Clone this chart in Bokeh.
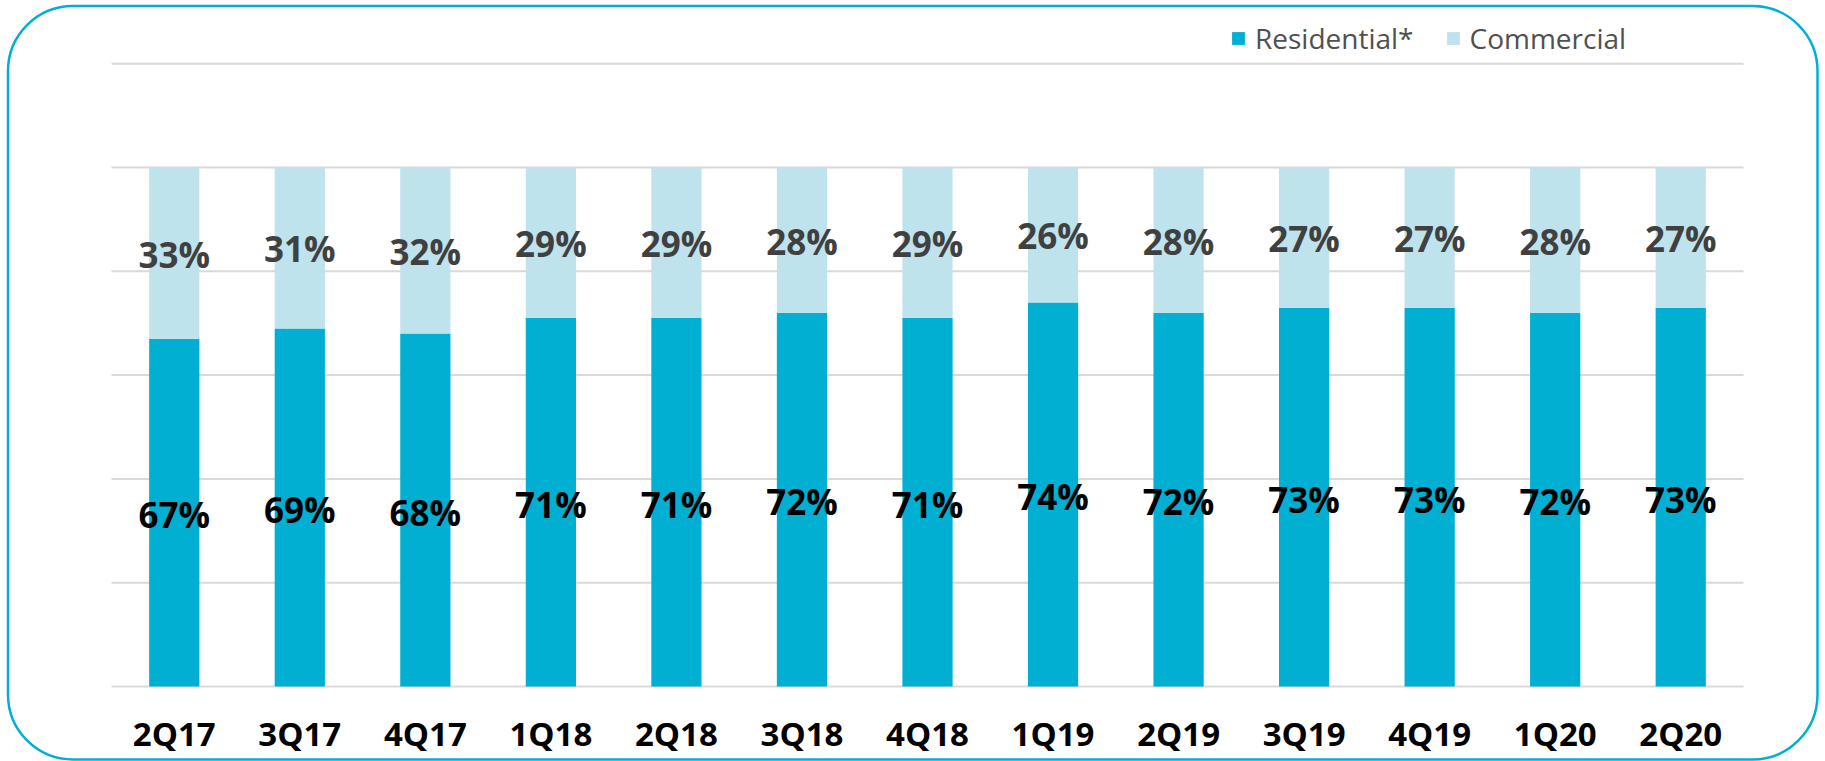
from bokeh.plotting import figure
from bokeh.models import ColumnDataSource, Range1d, Legend, BoxAnnotation
from bokeh.core.properties import value
from bokeh.embed import file_html
from bokeh.resources import INLINE

quarters = ["2Q17", "3Q17", "4Q17", "1Q18", "2Q18", "3Q18", "4Q18",
            "1Q19", "2Q19", "3Q19", "4Q19", "1Q20", "2Q20"]
residential = [0.67, 0.69, 0.68, 0.71, 0.71, 0.72, 0.71, 0.74, 0.72, 0.73, 0.73, 0.72, 0.73]
commercial = [0.33, 0.31, 0.32, 0.29, 0.29, 0.28, 0.29, 0.26, 0.28, 0.27, 0.27, 0.28, 0.27]
grid_ticks = [0.0, 0.2, 0.4, 0.6, 0.8, 1.0, 1.2]

RES_COLOR = "#00AFD1"
COM_COLOR = "#BFE3EC"
BORDER_COLOR = "#00B0D4"
GRID_COLOR = "#D9D9D9"
FONT = "Open Sans"

n = len(quarters)
xs = list(range(n))
src = ColumnDataSource(dict(
    x=xs,
    q=quarters,
    res=residential,
    com=commercial,
    res_mid=[r / 2 for r in residential],
    com_mid=[r + c / 2 for r, c in zip(residential, commercial)],
    res_lbl=[f"{round(r * 100)}%" for r in residential],
    com_lbl=[f"{round(c * 100)}%" for c in commercial],
    lbl_y=[-0.09] * n,
))

W, H = 1825, 761
# plot area: 111..1743 px horizontally, zero line at 686 px, 519 px per 100%
PL, PR, P0 = 111, 1743, 686
cat_px = (PR - PL) / n
unit_px = 519
x_range = Range1d(-0.5 - PL / cat_px, n - 0.5 + (W - PR) / cat_px)
y_range = Range1d(-(H - P0) / unit_px, P0 / unit_px)

p = figure(width=W, height=H, x_range=x_range, y_range=y_range,
           output_backend="svg", toolbar_location=None,
           min_border=0, min_border_left=0, min_border_right=0,
           min_border_top=0, min_border_bottom=0)
p.outline_line_color = None
p.background_fill_color = "white"
p.border_fill_color = "white"
p.xaxis.visible = False
p.yaxis.visible = False
p.xgrid.visible = False
p.ygrid.visible = False

# horizontal gridlines limited to the category span
p.segment(x0=[-0.5] * len(grid_ticks), x1=[n - 0.5] * len(grid_ticks),
          y0=grid_ticks, y1=grid_ticks, line_color=GRID_COLOR, line_width=2)

renderers = p.vbar_stack(["res", "com"], x="x", width=0.4, color=[RES_COLOR, COM_COLOR],
                         source=src, line_color=None)

p.text(x="x", y="res_mid", text="res_lbl", source=src, text_align="center",
       text_baseline="middle", text_font=value(FONT), text_font_style="bold",
       text_font_size="35px", text_color="#000000", y_offset=2)
p.text(x="x", y="com_mid", text="com_lbl", source=src, text_align="center",
       text_baseline="middle", text_font=value(FONT), text_font_style="bold",
       text_font_size="35px", text_color="#404040", y_offset=1)

# category labels
p.text(x="x", y="lbl_y", text="q", source=src, text_align="center",
       text_baseline="middle", text_font=value(FONT), text_font_style="bold",
       text_font_size="33px", text_color="#000000")

legend = Legend(items=[("Residential*", [renderers[0]]), ("Commercial", [renderers[1]])],
                orientation="horizontal", location=(1230, 704),
                glyph_width=16, glyph_height=16, label_text_font=FONT,
                label_text_font_size="28px", label_text_color="#505050",
                label_standoff=9, spacing=31, padding=0, margin=0,
                border_line_color=None, background_fill_alpha=0)
p.add_layout(legend, "center")

border = BoxAnnotation(left=7.5, right=1817, top=5.5, bottom=759,
                       left_units="canvas", right_units="canvas",
                       top_units="canvas", bottom_units="canvas",
                       fill_alpha=0, line_color=BORDER_COLOR, line_alpha=1.0,
                       line_width=2.5, border_radius=65)
p.add_layout(border)

open("out.html", "w").write(file_html(p, INLINE))
